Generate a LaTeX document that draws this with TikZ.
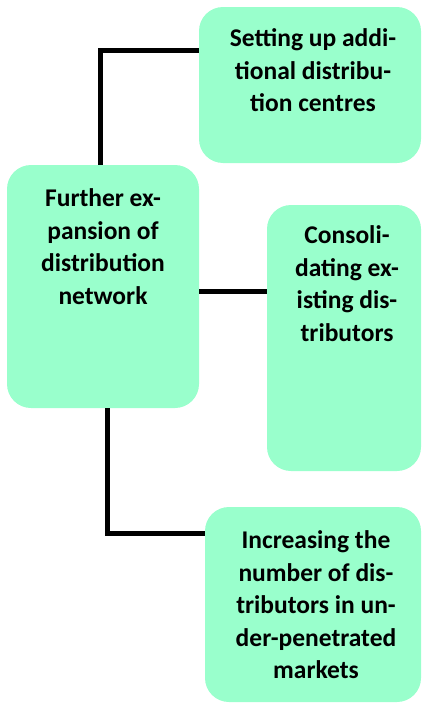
\documentclass[tikz,border=0pt]{standalone}
\usepackage{fontspec}
\setmainfont{Carlito}
\usepackage{xcolor}
\usepackage{tikz}
\usetikzlibrary{positioning}
\definecolor{mint}{RGB}{153,255,204}

\begin{document}
\begin{tikzpicture}[x=1pt,y=-1pt,
  box/.style={fill=mint,rounded corners=24pt,inner sep=0pt},
  txt/.style={font=\bfseries\fontsize{25.5}{32.5}\selectfont,align=center,anchor=north,inner sep=0pt},
  link/.style={line width=5pt}]
  \useasboundingbox (0,0) rectangle (422,704);
  % boxes
  \node[box,minimum width=222pt,minimum height=156pt] (setup) at (310,85) {};
  \node[box,minimum width=192pt,minimum height=243pt] (main) at (103,286.5) {};
  \node[box,minimum width=154pt,minimum height=266pt] (consol) at (344,338) {};
  \node[box,minimum width=216pt,minimum height=195pt] (increase) at (313,604.5) {};
  % texts
  \node[txt,below=22pt of setup.north,anchor=north,xshift=3pt] (setuptxt) {Setting up addi-\\tional distribu-\\tion centres};
  \node[txt,below=24pt of main.north,anchor=north] (maintxt) {Further ex-\\pansion of\\distribution\\network};
  \node[txt,below=21pt of consol.north,anchor=north,xshift=3pt] (consoltxt) {Consoli-\\dating ex-\\isting dis-\\tributors};
  \node[txt,below=24pt of increase.north,anchor=north,xshift=3pt] (increasetxt) {Increasing the\\number of dis-\\tributors in un-\\der-penetrated\\markets};
  % connectors
  \draw[link] ([xshift=-3pt]main.north) |- ([yshift=35pt]setup.west);
  \draw[link] ([yshift=-4.5pt]main.east) -- ([yshift=-4.5pt]main.east -| consol.west);
  \draw[link] ([xshift=4pt]main.south) |- ([yshift=71.5pt]increase.west);
\end{tikzpicture}
\end{document}
